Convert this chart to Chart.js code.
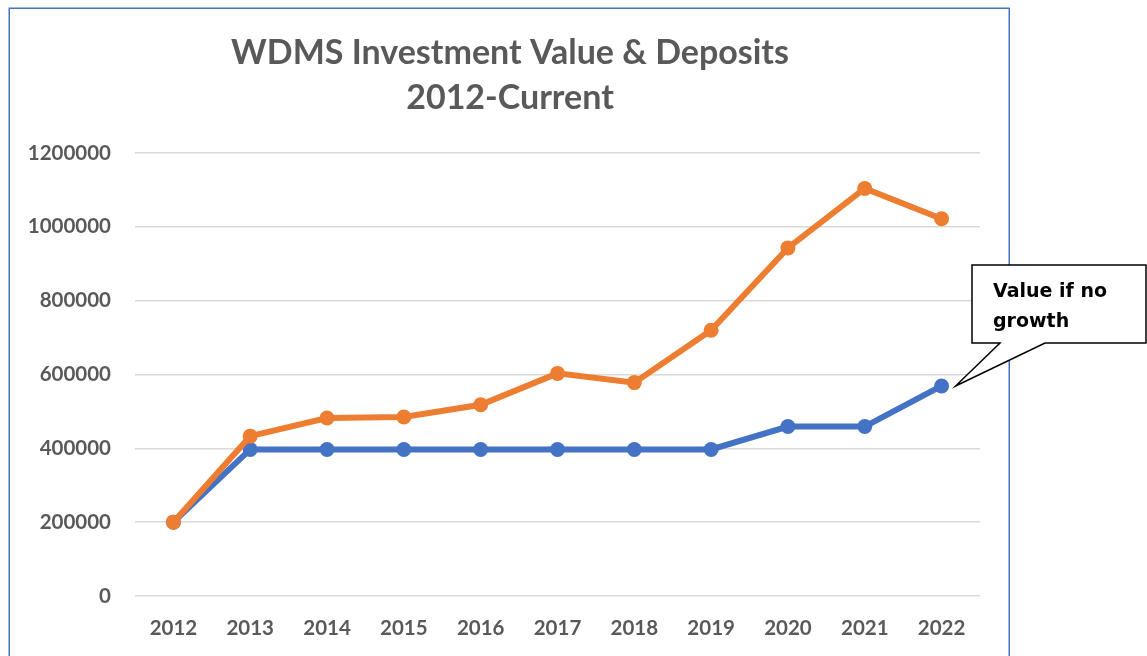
<!DOCTYPE html>
<html>
<head>
<meta charset="utf-8">
<style>
  html, body { margin: 0; padding: 0; background: #ffffff; }
  canvas { display: block; }
</style>
<script src="https://cdn.jsdelivr.net/npm/chart.js@4/dist/chart.umd.min.js"></script>
</head>
<body>
<canvas id="c" width="1147" height="656"></canvas>
<script>
const years = ['2012','2013','2014','2015','2016','2017','2018','2019','2020','2021','2022'];
const investmentValue = [200000, 433000, 482000, 485000, 518000, 603000, 578000, 720000, 943000, 1104000, 1022000];
const deposits = [200000, 397000, 397000, 397000, 397000, 397000, 397000, 397000, 459000, 459000, 569000];
const yTicks = [0, 200000, 400000, 600000, 800000, 1000000, 1200000];
const titleLines = ['WDMS Investment Value & Deposits', '2012-Current'];
const calloutLines = ['Value if no', 'growth'];

const BLUE = '#4472C4';
const ORANGE = '#ED7D31';
const TEXT = '#595959';

const frameAndCallout = {
  id: 'frameAndCallout',
  beforeDraw(chart) {
    const ctx = chart.ctx;
    ctx.save();
    ctx.fillStyle = '#ffffff';
    ctx.fillRect(0, 0, chart.width, chart.height);
    ctx.restore();
  },
  afterDraw(chart) {
    const ctx = chart.ctx;
    ctx.save();
    // outer chart frame
    ctx.strokeStyle = BLUE;
    ctx.lineWidth = 1.5;
    ctx.strokeRect(9.25, 8.25, 1000, 720);

    // callout pointing at last deposits point
    const xs = chart.scales.x, ys = chart.scales.y;
    const last = deposits.length - 1;
    const tipX = xs.getPixelForValue(last) + 14;
    const tipY = ys.getPixelForValue(deposits[last]);
    const L = 972, T = 265, R = 1146, B = 343;
    ctx.beginPath();
    ctx.moveTo(L, T);
    ctx.lineTo(R, T);
    ctx.lineTo(R, B);
    ctx.lineTo(1045, B);
    ctx.lineTo(tipX, tipY);
    ctx.lineTo(1000, B);
    ctx.lineTo(L, B);
    ctx.closePath();
    ctx.fillStyle = '#ffffff';
    ctx.fill();
    ctx.strokeStyle = '#000000';
    ctx.lineWidth = 1.5;
    ctx.lineJoin = 'miter';
    ctx.stroke();

    ctx.fillStyle = '#000000';
    ctx.font = 'bold 19px "DejaVu Sans"';
    ctx.textAlign = 'left';
    ctx.textBaseline = 'alphabetic';
    ctx.fillText(calloutLines[0], 993, 297);
    ctx.fillText(calloutLines[1], 993, 327);
    ctx.restore();
  }
};

new Chart(document.getElementById('c'), {
  type: 'line',
  data: {
    labels: years,
    datasets: [
      {
        label: 'Investment Value',
        data: investmentValue,
        borderColor: ORANGE,
        backgroundColor: ORANGE,
        borderWidth: 6,
        pointRadius: 7.5,
        pointHoverRadius: 7.5,
        pointBorderWidth: 0,
        pointBackgroundColor: ORANGE,
        tension: 0
      },
      {
        label: 'Deposits',
        data: deposits,
        borderColor: BLUE,
        backgroundColor: BLUE,
        borderWidth: 6,
        pointRadius: 7.5,
        pointHoverRadius: 7.5,
        pointBorderWidth: 0,
        pointBackgroundColor: BLUE,
        tension: 0
      }
    ]
  },
  options: {
    responsive: false,
    devicePixelRatio: 1,
    animation: false,
    layout: { padding: { left: 20, right: 147, top: 0, bottom: 0 } },
    plugins: {
      legend: { display: false },
      tooltip: { enabled: false },
      title: {
        display: true,
        text: titleLines,
        color: TEXT,
        font: { family: 'Lato', size: 34, weight: 'bold', lineHeight: 45 / 34 },
        padding: { top: 30.5, bottom: 32.5 }
      }
    },
    scales: {
      x: {
        type: 'category',
        offset: true,
        grid: { display: false, drawTicks: false },
        border: { display: false },
        ticks: {
          color: TEXT,
          font: { family: 'Lato', size: 20.5, weight: 'bold' },
          padding: 20,
          maxRotation: 0,
          autoSkip: false
        },
        afterFit(scale) { scale.height = 60; }
      },
      y: {
        min: 0,
        max: 1200000,
        afterBuildTicks(scale) { scale.ticks = yTicks.map(v => ({ value: v })); },
        grid: { color: '#D9D9D9', lineWidth: 1.5, drawTicks: false },
        border: { display: false },
        ticks: {
          color: TEXT,
          font: { family: 'Lato', size: 20.5, weight: 'bold' },
          padding: 24,
          callback: (v) => String(v)
        },
        afterFit(scale) { scale.width = 115; }
      },
      yRight: {
        position: 'right',
        min: 0,
        max: 1200000,
        grid: { display: false, drawTicks: false },
        border: { display: false },
        ticks: { display: false },
        afterFit(scale) { scale.width = 20; }
      }
    }
  },
  plugins: [frameAndCallout]
});
</script>
</body>
</html>
